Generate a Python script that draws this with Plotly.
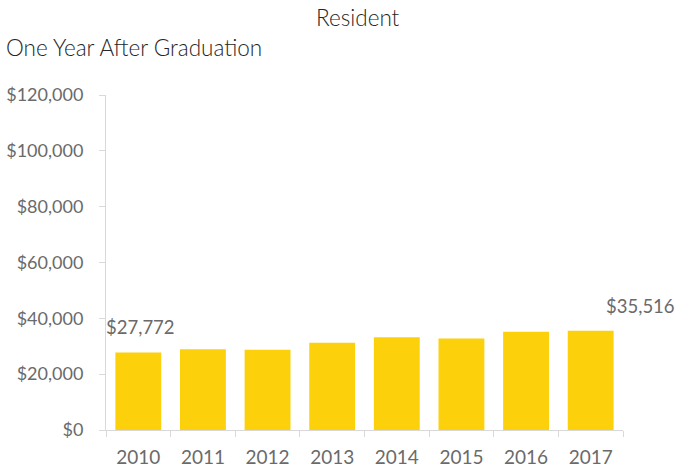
import plotly.graph_objects as go

years = ["2010", "2011", "2012", "2013", "2014", "2015", "2016", "2017"]
values = [27772, 28970, 28730, 31220, 33250, 32770, 35160, 35516]
tick_vals = [0, 20000, 40000, 60000, 80000, 100000, 120000]
tick_text = ["$0", "$20,000", "$40,000", "$60,000", "$80,000", "$100,000", "$120,000"]
label_idx = [0, 7]

FONT = "Lato"
BAR = "#FCD10C"
GRAY = "#6A6A6A"
AXIS = "#D9D9D9"

fig = go.Figure(go.Bar(x=years, y=values, marker=dict(color=BAR, line=dict(width=0)),
                       hoverinfo="skip"))

L, R, T, B = 106, 53, 95, 42
W, H = 676, 472
pw = W - L - R
ph = H - T - B

anns = []
xshifts = {0: 2, 7: 50}
yshifts = {0: 12, 7: 12}
for i in label_idx:
    anns.append(dict(x=i, y=values[i], xref="x", yref="y",
                     text="${:,}".format(values[i]), showarrow=False,
                     yanchor="bottom", xanchor="center",
                     xshift=xshifts[i], yshift=yshifts[i],
                     font=dict(family=FONT, size=18.5, color=GRAY)))
anns.append(dict(x=(358 - L) / pw, y=(H - 17 - B) / ph, xref="paper", yref="paper",
                 text="Resident", showarrow=False, xanchor="center", yanchor="middle",
                 font=dict(family=FONT, size=22.5, color="#262626", weight=300)))
anns.append(dict(x=(4 - L) / pw, y=(H - 47 - B) / ph, xref="paper", yref="paper",
                 text="One Year After Graduation", showarrow=False, xanchor="left",
                 yanchor="middle", font=dict(family=FONT, size=22.5, color="#262626", weight=300)))

fig.update_layout(
    width=W, height=H,
    margin=dict(l=L, r=R, t=T, b=B, pad=0),
    paper_bgcolor="white", plot_bgcolor="white",
    bargap=0.29,
    showlegend=False,
    annotations=anns,
    font=dict(family=FONT, size=18, color=GRAY),
    xaxis=dict(type="category", range=[-0.5, 7.5], showline=True, linecolor=AXIS, linewidth=1,
               ticks="outside", tickson="boundaries", ticklen=6, tickcolor=AXIS,
               showgrid=False, automargin=False, tickangle=0, ticklabelstandoff=10,
               tickfont=dict(family=FONT, size=19, color=GRAY)),
    yaxis=dict(range=[0, 120000], tickvals=tick_vals, ticktext=tick_text,
               showline=True, linecolor=AXIS, linewidth=1, ticks="outside",
               ticklen=6, tickcolor=AXIS, showgrid=False, zeroline=False, automargin=False,
               ticklabelstandoff=12,
               tickfont=dict(family=FONT, size=18, color=GRAY)),
)

fig.write_html("out.html", config={"displayModeBar": False},
               post_script="document.body.style.margin='0';")
